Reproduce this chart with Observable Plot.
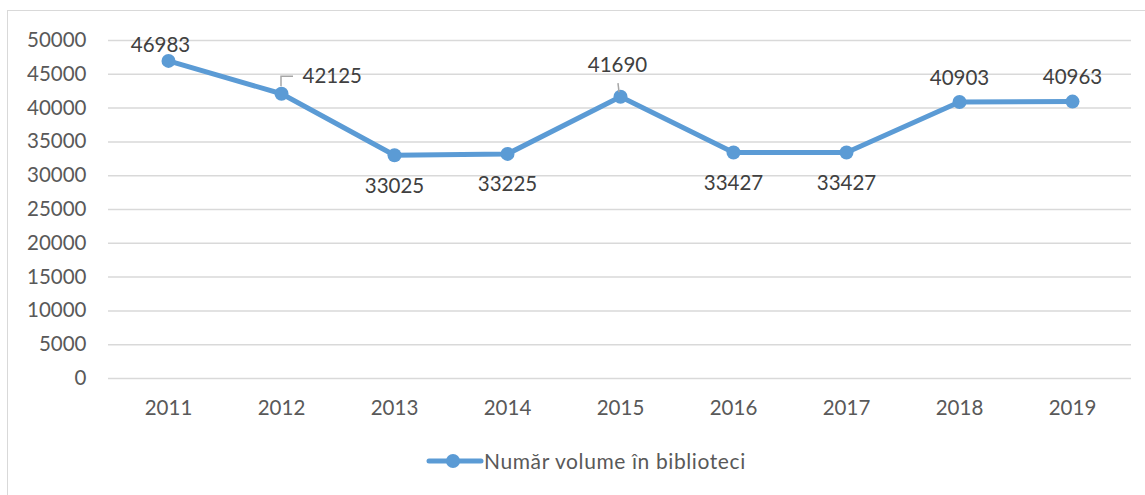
<!DOCTYPE html>
<html>
<head>
<meta charset="utf-8">
<script src="https://cdn.jsdelivr.net/npm/d3@7"></script>
<script src="https://cdn.jsdelivr.net/npm/@observablehq/plot@0.6"></script>
<style>
  html, body { margin: 0; padding: 0; background: #fff; }
  body { width: 1145px; height: 495px; position: relative; overflow: hidden; font-family: Lato, "Open Sans", sans-serif; }
  #frame { position: absolute; left: 7px; top: 10px; width: 1150px; height: 500px; border-left: 1px solid #d9d9d9; border-top: 1px solid #d9d9d9; box-sizing: border-box; }
  #chart { position: absolute; left: 0; top: 0; }
  #legend { position: absolute; left: 426px; top: 448px; display: flex; align-items: center; color: #595959; font-size: 21px; letter-spacing: 0.6px; }
</style>
</head>
<body>
<div id="frame"></div>
<div id="chart"></div>
<div id="legend"></div>
<script>
const years = ["2011", "2012", "2013", "2014", "2015", "2016", "2017", "2018", "2019"];
const volumes = [46983, 42125, 33025, 33225, 41690, 33427, 33427, 40903, 40963];
const yTicks = [0, 5000, 10000, 15000, 20000, 25000, 30000, 35000, 40000, 45000, 50000];
const seriesName = "Număr volume în biblioteci";
const labelSide = ["above", "right", "below", "below", "above", "below", "below", "above", "above"];

const lineColor = "#5B9BD5";
const labelColor = "#404040";
const data = years.map((year, i) => ({year, value: volumes[i], side: labelSide[i]}));

function leaders(index, scales) {
  const g = d3.create("svg:g").attr("fill", "none").attr("stroke", "#a6a6a6").attr("stroke-width", 1.5);
  for (const d of data) {
    const px = scales.x(d.year), py = scales.y(d.value);
    if (d.side === "right") {
      g.append("path").attr("d", `M${px},${py - 7}V${py - 17}H${px + 12}`);
    } else if (d.year === "2015") {
      g.append("path").attr("d", `M${px - 1},${py - 4}L${px - 2},${py - 13}`);
    }
  }
  return g.node();
}

const labelText = d => String(d.value);
const byYear = (...ys) => data.filter(d => ys.includes(d.year));

const chart = Plot.plot({
  width: 1145,
  height: 440,
  marginLeft: 108,
  marginRight: 14,
  marginTop: 40,
  marginBottom: 62,
  style: {fontFamily: "Lato, 'Open Sans', sans-serif", fontSize: "20px", color: "#595959", background: "transparent"},
  x: {type: "point", domain: years, padding: 0.5, label: null},
  y: {domain: [0, 50000], label: null},
  marks: [
    Plot.gridY(yTicks, {stroke: "#d9d9d9", strokeOpacity: 1, strokeWidth: 1.5}),
    Plot.axisY(yTicks, {tickSize: 0, tickPadding: 22, fill: "#595959", fontSize: 20.5, tickFormat: d => String(d)}),
    Plot.axisX({tickSize: 0, tickPadding: 22, fill: "#595959", fontSize: 20.5}),
    Plot.line(data, {x: "year", y: "value", stroke: lineColor, strokeWidth: 5, strokeLinejoin: "round"}),
    Plot.dot(data, {x: "year", y: "value", r: 7, fill: lineColor, stroke: null}),
    leaders,
    Plot.text(byYear("2011"), {x: "year", y: "value", text: labelText, dx: -8, dy: -15, fill: labelColor, fontSize: 20.5}),
    Plot.text(byYear("2015"), {x: "year", y: "value", text: labelText, dx: -3, dy: -31, fill: labelColor, fontSize: 20.5}),
    Plot.text(byYear("2018", "2019"), {x: "year", y: "value", text: labelText, dy: -24, fill: labelColor, fontSize: 20.5}),
    Plot.text(data.filter(d => d.side === "below"), {x: "year", y: "value", text: labelText, dy: 31, fill: labelColor, fontSize: 20.5}),
    Plot.text(data.filter(d => d.side === "right"), {x: "year", y: "value", text: labelText, dx: 21, dy: -17, fill: labelColor, fontSize: 20.5, textAnchor: "start"})
  ]
});
document.getElementById("chart").appendChild(chart);

const legend = document.getElementById("legend");
legend.innerHTML = `<svg width="58" height="20"><line x1="3" y1="10" x2="55" y2="10" stroke="${lineColor}" stroke-width="5" stroke-linecap="round"/><circle cx="27" cy="10" r="7" fill="${lineColor}"/></svg><span>${seriesName}</span>`;
</script>
</body>
</html>
